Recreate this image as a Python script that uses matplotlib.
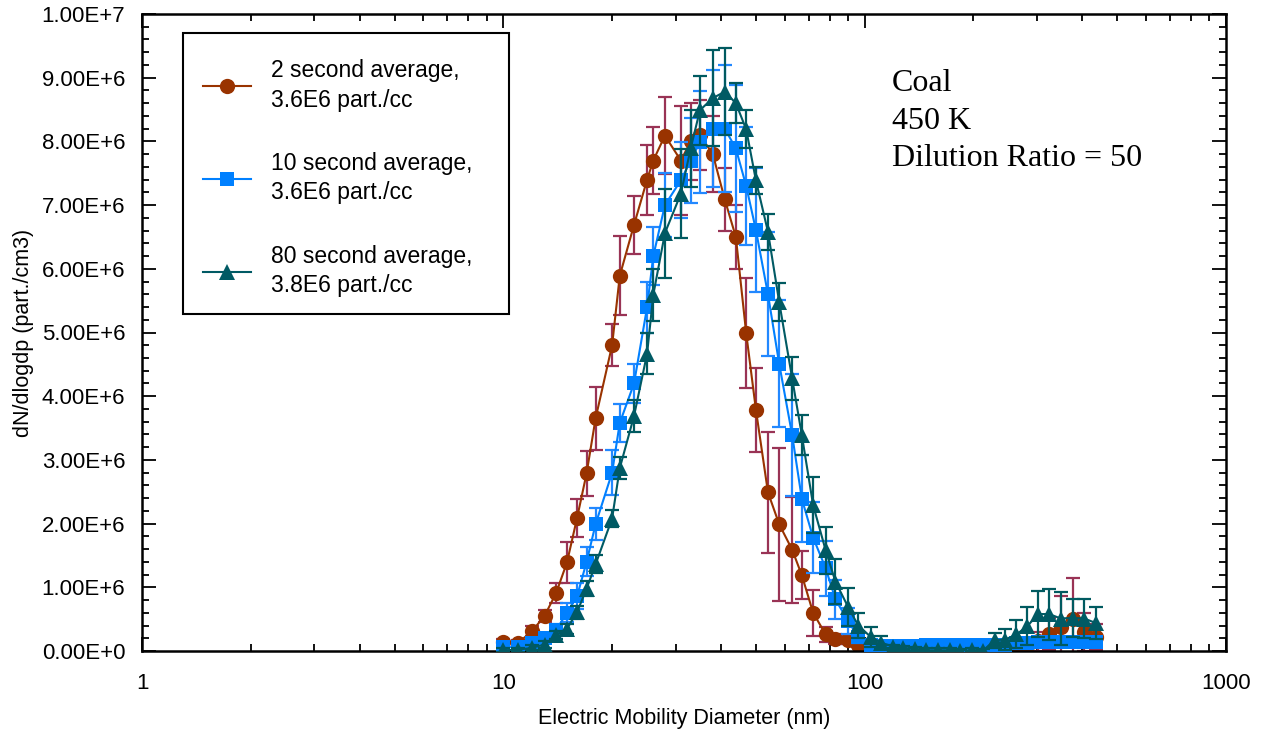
import matplotlib
matplotlib.use("Agg")
import matplotlib.pyplot as plt
from matplotlib.ticker import FixedLocator, MultipleLocator, FuncFormatter, NullFormatter, LogLocator
from matplotlib.patches import Rectangle

# Mobility diameter bins (nm)
diameter_nm = [10, 11, 12, 13, 14, 15, 16, 17, 18, 20, 21, 23, 25, 26, 28, 31, 33, 35,
               38, 41, 44, 47, 50, 54, 58, 63, 67, 72, 78, 83, 90, 96, 104, 111, 120,
               128, 138, 148, 160, 172, 184, 198, 212, 229, 245, 263, 282, 302, 324,
               349, 376, 405, 436]

# dN/dlogdp in units of 1E6 part./cm3
avg2_vals = [0.14, 0.13, 0.31, 0.55, 0.91, 1.39, 2.09, 2.79, 3.65, 4.80, 5.89, 6.69, 7.40,
             7.70, 8.09, 7.70, 8.00, 8.10, 7.80, 7.09, 6.50, 4.99, 3.79, 2.49, 1.99, 1.59,
             1.19, 0.60, 0.26, 0.19, 0.17, 0.10, 0.06, 0.05, 0.05, 0.05, 0.05, 0.05, 0.05,
             0.05, 0.05, 0.04, 0.03, 0.02, 0.03, 0.05, 0.08, 0.15, 0.27, 0.37, 0.51, 0.30,
             0.22]
avg2_err = [0.05, 0.05, 0.08, 0.10, 0.15, 0.32, 0.30, 0.35, 0.50, 0.33, 0.62, 0.45, 0.55,
            0.52, 0.60, 0.85, 0.60, 0.55, 0.60, 0.50, 0.50, 0.86, 0.66, 0.95, 1.20, 0.83,
            0.38, 0.36, 0.12, 0.08, 0.06, 0.04, 0.03, 0.03, 0.03, 0.03, 0.03, 0.03, 0.03,
            0.03, 0.03, 0.03, 0.03, 0.03, 0.03, 0.05, 0.10, 0.15, 0.25, 0.49, 0.63, 0.30,
            0.20]

avg10_vals = [0.06, 0.06, 0.12, 0.20, 0.33, 0.60, 0.86, 1.40, 1.99, 2.80, 3.58, 4.20, 5.40,
              6.20, 7.00, 7.39, 7.70, 7.99, 8.20, 8.20, 7.89, 7.30, 6.61, 5.60, 4.51, 3.39,
              2.39, 1.78, 1.30, 0.81, 0.47, 0.22, 0.09, 0.08, 0.08, 0.08, 0.08, 0.09, 0.09,
              0.09, 0.09, 0.09, 0.09, 0.10, 0.10, 0.12, 0.13, 0.14, 0.14, 0.14, 0.14, 0.14,
              0.14]
avg10_err = [0.04, 0.04, 0.06, 0.08, 0.10, 0.15, 0.20, 0.23, 0.25, 0.35, 0.30, 0.31, 0.40,
             0.45, 0.50, 0.60, 0.66, 0.80, 0.92, 1.00, 1.00, 0.93, 0.98, 0.97, 1.00, 0.96,
             0.68, 0.56, 0.43, 0.30, 0.20, 0.10, 0.05, 0.03, 0.03, 0.03, 0.03, 0.03, 0.03,
             0.03, 0.03, 0.03, 0.03, 0.03, 0.03, 0.05, 0.05, 0.05, 0.05, 0.05, 0.05, 0.05,
             0.05]

avg80_vals = [0.01, 0.02, 0.05, 0.10, 0.25, 0.35, 0.61, 0.98, 1.36, 2.08, 2.87, 3.69, 4.67,
              5.59, 6.56, 7.18, 7.89, 8.49, 8.68, 8.78, 8.60, 8.19, 7.39, 6.58, 5.48, 4.28,
              3.39, 2.29, 1.58, 1.09, 0.69, 0.40, 0.22, 0.13, 0.07, 0.05, 0.03, 0.01, 0.01,
              0.01, 0.00, 0.01, 0.00, 0.17, 0.18, 0.26, 0.39, 0.58, 0.58, 0.51, 0.52, 0.51,
              0.44]
avg80_err = [0.03, 0.03, 0.04, 0.05, 0.06, 0.08, 0.10, 0.12, 0.14, 0.14, 0.17, 0.25, 0.32,
             0.41, 0.70, 0.70, 0.60, 0.54, 0.75, 0.68, 0.31, 0.30, 0.21, 0.28, 0.30, 0.34,
             0.31, 0.44, 0.37, 0.35, 0.30, 0.20, 0.15, 0.10, 0.03, 0.03, 0.03, 0.03, 0.03,
             0.03, 0.03, 0.03, 0.03, 0.12, 0.16, 0.22, 0.30, 0.36, 0.40, 0.41, 0.30, 0.30,
             0.25]

SCALE = 1e6

series_labels = ["2 second average,\n3.6E6 part./cc",
                 "10 second average,\n3.6E6 part./cc",
                 "80 second average,\n3.8E6 part./cc"]

x_ticks = [1, 10, 100, 1000]
y_ticks = [0, 1e6, 2e6, 3e6, 4e6, 5e6, 6e6, 7e6, 8e6, 9e6, 1e7]

plt.rcParams["font.family"] = ["Liberation Sans", "DejaVu Sans"]

fig = plt.figure(figsize=(12.62, 7.31), dpi=100)
ax = fig.add_axes([142 / 1262, 80 / 731, 1084 / 1262, 637 / 731])

styles = [
    dict(marker="o", color="#993300", ecolor="#993355", ms=11),
    dict(marker="s", color="#0080FF", ecolor="#2288FF", ms=10),
    dict(marker="^", color="#005A64", ecolor="#005A60", ms=11),
]
all_vals = [avg2_vals, avg10_vals, avg80_vals]
all_errs = [avg2_err, avg10_err, avg80_err]

handles = []
for i, (vals, errs, st) in enumerate(zip(all_vals, all_errs, styles)):
    y = [v * SCALE for v in vals]
    e = [v * SCALE for v in errs]
    cont = ax.errorbar(diameter_nm, y, yerr=e, marker=st["marker"], color=st["color"],
                       ecolor=st["ecolor"], ms=st["ms"], lw=1.5, elinewidth=1.6,
                       capsize=5, capthick=1.6, zorder=2 + i)
    cont[0].set_markeredgewidth(0)
    handles.append(cont[0])

ax.set_xscale("log")
ax.set_xlim(1, 1000)
ax.set_ylim(0, 1e7)

ax.xaxis.set_major_locator(FixedLocator(x_ticks))
ax.xaxis.set_major_formatter(FuncFormatter(lambda v, p: f"{v:g}"))
ax.xaxis.set_minor_locator(LogLocator(base=10, subs=range(2, 10)))
ax.xaxis.set_minor_formatter(NullFormatter())


def sci_label(v, pos):
    if v == 0:
        return "0.00E+0"
    exp = 0
    m = v
    while abs(m) >= 10:
        m /= 10
        exp += 1
    return f"{m:.2f}E+{exp}"


ax.yaxis.set_major_locator(FixedLocator(y_ticks))
ax.yaxis.set_major_formatter(FuncFormatter(sci_label))
ax.yaxis.set_minor_locator(MultipleLocator(2e5))

ax.tick_params(which="both", direction="in", top=True, right=True, width=1.3, colors="black")
ax.tick_params(which="major", length=10, labelsize=16, pad=12)
ax.tick_params(which="minor", length=5)
ax.tick_params(axis="x", which="major", pad=16)
for sp in ax.spines.values():
    sp.set_linewidth(1.8)

ax.set_xlabel("Electric Mobility Diameter (nm)", fontsize=15.5)
ax.set_ylabel("dN/dlogdp (part./cm3)", fontsize=15.5)
ax.xaxis.set_label_coords(0.5, -0.09)
ax.yaxis.set_label_coords(-0.1, 0.5)

# legend frame and entries
ax.add_patch(Rectangle((0.0378, 0.529), 0.3008, 0.441,
                       transform=ax.transAxes, fill=True, facecolor="white",
                       edgecolor="black", linewidth=1.5, zorder=10))
leg = ax.legend(handles, series_labels, loc="upper left", bbox_to_anchor=(0.0563, 0.929),
                frameon=False, fontsize=16.5, handlelength=2.1, handletextpad=0.85,
                labelspacing=1.77, borderaxespad=0, borderpad=0)
for t in leg.get_texts():
    t.set_linespacing(1.35)
leg.set_zorder(11)

ax.text(0.692, 0.914, "Coal\n450 K\nDilution Ratio = 50", transform=ax.transAxes,
        ha="left", va="top", fontsize=23, family="Liberation Serif", linespacing=1.4)

fig.savefig("out.png", dpi=100)
